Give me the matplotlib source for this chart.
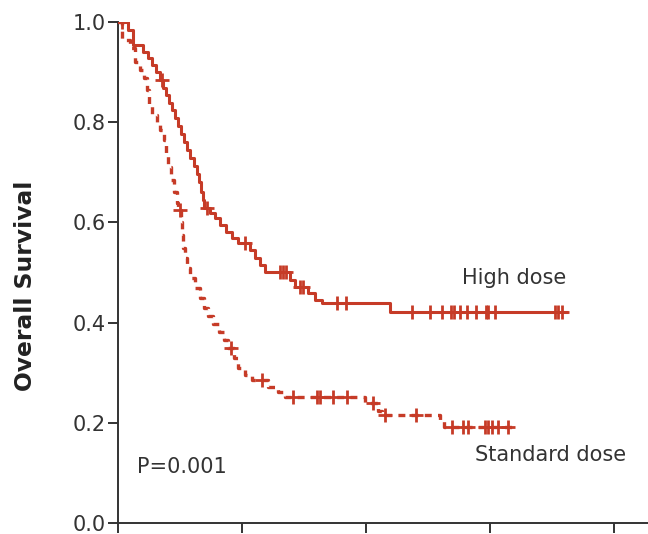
import matplotlib
matplotlib.use("Agg")
import matplotlib.pyplot as plt
import numpy as np

plt.rcParams['font.family'] = ['DejaVu Sans']
plt.rcParams['lines.scale_dashes'] = False

RED = '#C63B27'

# High dose: event times (months) and survival after each event
high_t = [0.97, 1.45, 2.42, 2.90, 3.29, 3.68, 4.07, 4.36, 4.65, 4.94, 5.23, 5.52, 5.81,
          6.10, 6.39, 6.68, 6.97, 7.36, 7.65, 7.84, 8.03, 8.23, 8.32, 8.90, 9.39, 9.87,
          10.45, 11.04, 11.60, 12.80, 13.26, 13.75, 14.23, 16.65, 17.13, 18.40, 19.07,
          19.75, 26.30]
high_s = [0.984, 0.954, 0.940, 0.928, 0.914, 0.900, 0.884, 0.868, 0.854, 0.838, 0.824,
          0.808, 0.792, 0.776, 0.760, 0.745, 0.729, 0.713, 0.697, 0.681, 0.661, 0.645,
          0.629, 0.619, 0.609, 0.595, 0.581, 0.569, 0.559, 0.545, 0.529, 0.515, 0.501,
          0.485, 0.471, 0.459, 0.445, 0.439, 0.421]
high_censor = [0.4, 4.26, 8.6, 12.3, 15.7, 16.0, 16.3, 17.6, 17.9, 21.2, 22.1, 28.5, 30.2,
               31.4, 32.2, 32.5, 33.1, 33.8, 34.7, 35.6, 35.8, 36.5, 42.3, 42.6, 43.0]
high_end = 43.6

# Standard dose
std_t = [0.39, 1.16, 1.65, 2.13, 2.52, 2.81, 3.00, 3.29, 3.78, 4.07, 4.45, 4.65, 4.84,
         5.13, 5.42, 5.71, 5.81, 6.10, 6.20, 6.29, 6.49, 6.68, 6.97, 7.45, 7.94, 8.33,
         8.71, 9.20, 9.78, 10.26, 10.65, 11.23, 11.62, 12.29, 12.97, 14.52, 15.49, 16.17,
         23.9, 25.2, 25.6, 31.2, 31.6]
std_s = [0.964, 0.948, 0.920, 0.904, 0.888, 0.864, 0.834, 0.814, 0.800, 0.784, 0.764,
         0.735, 0.711, 0.685, 0.661, 0.639, 0.625, 0.601, 0.575, 0.549, 0.529, 0.509,
         0.489, 0.469, 0.449, 0.429, 0.413, 0.397, 0.381, 0.365, 0.349, 0.329, 0.309,
         0.295, 0.285, 0.271, 0.261, 0.251, 0.240, 0.224, 0.216, 0.206, 0.192]
std_censor = [6.0, 10.9, 13.9, 16.9, 19.3, 19.6, 20.8, 22.2, 24.7, 25.8, 28.8, 32.3, 33.4,
              33.9, 35.5, 35.8, 36.2, 36.8, 37.8]
std_end = 38.2

y_ticks = [0.0, 0.2, 0.4, 0.6, 0.8, 1.0]
y_tick_labels = ['0.0', '0.2', '0.4', '0.6', '0.8', '1.0']
x_ticks = [0, 12, 24, 36, 48]


def km_xy(t, s, end):
    xs = [0.0] + list(t) + [end]
    ys = [1.0] + list(s) + [s[-1]]
    return xs, ys


def surv_at(t, s, times):
    out = []
    for c in times:
        v = 1.0
        for ti, si in zip(t, s):
            if ti <= c:
                v = si
        out.append(v)
    return out


fig = plt.figure(figsize=(6.48, 5.34), dpi=100)
ax = fig.add_axes([118 / 648, 11 / 534, 1 - 118 / 648, 501 / 534])

hx, hy = km_xy(high_t, high_s, high_end)
ax.step(hx, hy, where='post', color=RED, lw=2.2, solid_capstyle='butt', zorder=3)
ax.plot(high_censor, surv_at(high_t, high_s, high_censor), ls='none', marker='+',
        ms=10, mew=2.0, color=RED, zorder=4)

sx, sy = km_xy(std_t, std_s, std_end)
ax.step(sx, sy, where='post', color=RED, lw=2.4, dashes=(5, 4.5), zorder=3)
ax.plot(std_censor, surv_at(std_t, std_s, std_censor), ls='none', marker='+',
        ms=10, mew=2.0, color=RED, zorder=4)

ax.set_xlim(0, 530 / 10.33)
ax.set_ylim(0, 1.0)
ax.set_yticks(y_ticks)
ax.set_yticklabels(y_tick_labels)
ax.set_xticks(x_ticks)
ax.set_xticklabels([])
for side in ['top', 'right']:
    ax.spines[side].set_visible(False)
for side in ['left', 'bottom']:
    ax.spines[side].set_color('#333333')
    ax.spines[side].set_linewidth(1.4)
    ax.spines[side].set_clip_on(False)
ax.tick_params(axis='both', direction='out', length=7, width=1.4, color='#333333',
               labelsize=15, labelcolor='#333333', pad=2)

ax.set_ylabel('Overall Survival', fontsize=16.8, fontweight='bold', color='#222222')
ax.yaxis.set_label_coords(-0.153, 0.473)

ax.text(33.3, 0.489, 'High dose', fontsize=15, color='#333333', va='center', ha='left')
ax.text(34.6, 0.136, 'Standard dose', fontsize=15, color='#333333', va='center', ha='left')
ax.text(1.84, 0.112, 'P=0.001', fontsize=15, color='#333333', va='center', ha='left')

fig.savefig('out.png', dpi=100)
